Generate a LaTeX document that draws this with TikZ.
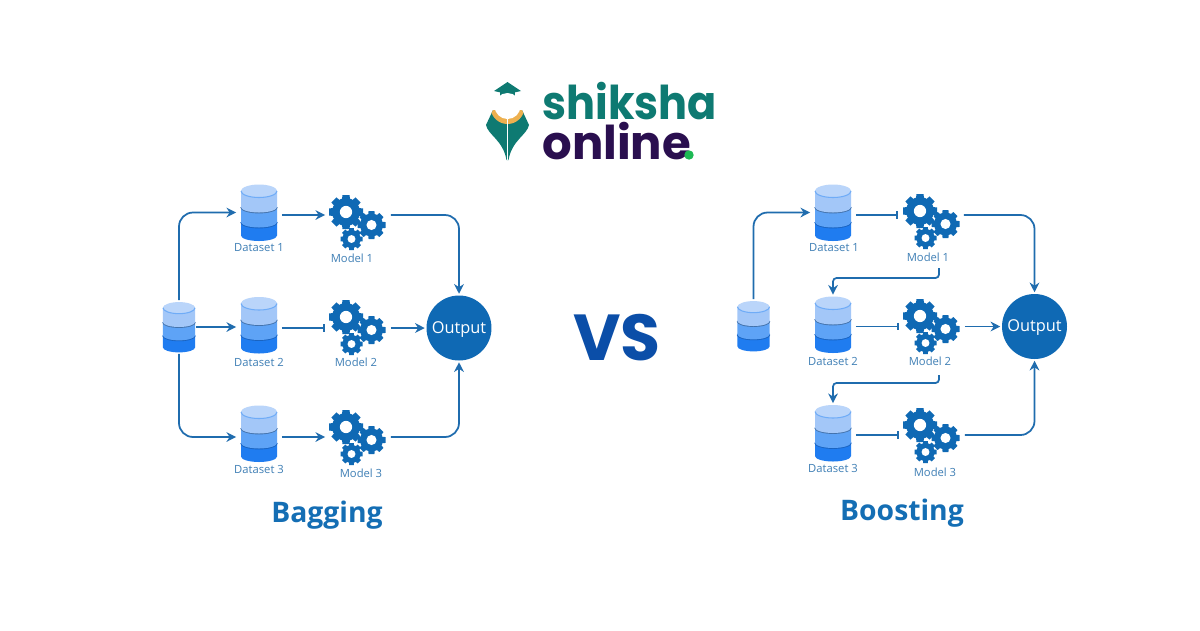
\documentclass[tikz,border=0pt]{standalone}
\usepackage{fontspec}
\setmainfont{Open Sans}
\newfontfamily\logofont{Poppins}
\usetikzlibrary{arrows.meta}

\definecolor{linkblue}{HTML}{1F6CAE}
\definecolor{gearblue}{HTML}{0F69B4}
\definecolor{labelblue}{HTML}{3F7FB5}
\definecolor{titleblue}{HTML}{146EB4}
\definecolor{vsblue}{HTML}{0B4EA8}
\definecolor{layertop}{HTML}{BAD5FA}
\definecolor{layerone}{HTML}{A3C7F8}
\definecolor{layertwo}{HTML}{5EA3F6}
\definecolor{layerthree}{HTML}{1F7CF0}
\definecolor{shikshateal}{HTML}{0E7A72}
\definecolor{onlinepurple}{HTML}{2A0F4F}
\definecolor{collar}{HTML}{EDB04F}
\definecolor{dotgreen}{HTML}{1DB954}

\newcommand{\dblayer}[3]{%
  \fill[#1] (-18,#2) -- (-18,#3) arc[start angle=180,end angle=0,x radius=18,y radius=5.5]
    -- (18,#2) arc[start angle=0,end angle=-180,x radius=18,y radius=5.5] -- cycle;}
\newcommand{\nibpath}{(493,110) -- (486,125) .. controls (488,135) and (503,140) .. (506.5,160)
    -- (508.5,160) .. controls (512,140) and (527,135) .. (529,125) -- (522,110) -- cycle}

\tikzset{
  >={Stealth[length=5.5pt,width=5.5pt]},
  link/.style={line width=1pt,linkblue},
  barlink/.style={line width=1pt,linkblue,-{Bar[width=4pt]}},
  dsbox/.style={minimum width=0.9cm,minimum height=1.18cm,inner sep=0pt},
  srcbox/.style={minimum width=0.68cm,minimum height=1.06cm,inner sep=0pt},
  modelbox/.style={minimum width=1.3cm,minimum height=0.4cm,inner sep=0pt},
  outnode/.style={circle,fill=gearblue,text=white,minimum size=1.3cm,inner sep=0pt,outer sep=1pt,
    text height=6.5pt,text depth=0.8pt,font=\fontsize{9.3}{11}\selectfont},
  tag/.style={text=labelblue,inner sep=0pt,font=\fontsize{6.4}{8}\selectfont},
  headtitle/.style={text=titleblue,inner sep=0pt,font=\fontsize{16.1}{18}\selectfont\bfseries},
  gear/.pic={
    \fill[gearblue] (0,0) circle[radius=#1*0.82];
    \foreach \a in {0,45,...,315}
      \fill[gearblue,rotate=\a] (-#1*0.3,0) -- (-#1*0.21,#1) -- (#1*0.21,#1) -- (#1*0.3,0) -- cycle;
    \fill[white] (0,0) circle[radius=#1*0.36];
  },
  gearset/.pic={
    \pic at (0,0) {gear=17};
    \pic at (25.5,13) {gear=14};
    \pic at (5.5,27) {gear=11};
  },
  dbstack/.pic={
    \dblayer{layerthree}{9}{23}
    \draw[line width=1pt,layerthree!80!black] (-18,9.5) arc[start angle=180,end angle=0,x radius=18,y radius=5.5];
    \dblayer{layertwo}{-5.5}{9.5}
    \draw[line width=1pt,layertwo!70!black] (-18,-5.5) arc[start angle=180,end angle=0,x radius=18,y radius=5.5];
    \dblayer{layerone}{-21.5}{-5.5}
    \fill[layertop] (0,-21.5) circle[x radius=18,y radius=6.5];
    \draw[line width=0.6pt,layertwo!75!layerone] (-18,-21.5) arc[start angle=180,end angle=0,x radius=18,y radius=6.5];
  }
}

\begin{document}
\begin{tikzpicture}[x=0.02cm,y=-0.02cm]
    \useasboundingbox (0,0) rectangle (1200,630);
    \fill[white] (0,0) rectangle (1200,630);

    % Logo
    \fill[shikshateal] (494,91) -- (507.5,82) -- (521,91) -- (507.5,94) -- cycle;
    \fill[shikshateal] (500,90) -- (515,90) -- (515,97) -- (500,97) -- cycle;
    \fill[shikshateal] \nibpath;
    \begin{scope}
        \clip \nibpath;
        \fill[collar] (507.5,107) circle[radius=17];
    \end{scope}
    \fill[white] (507.5,106) circle[radius=13];
    \draw[white,line width=0.8pt] (507.5,118) -- (507.5,160);
    \node[inner sep=0pt,anchor=base west,text=shikshateal,font=\fontsize{26.5}{30}\logofont\bfseries] (shiksha) at (542,119) {\scalebox{0.924}[1]{shiksha}};
    \node[inner sep=0pt,anchor=base west,text=onlinepurple,font=\fontsize{26.5}{30}\logofont\bfseries] (online) at (542,159) {\scalebox{1}[1]{online}};
    \fill[dotgreen] (689,155) circle[radius=4.7];

    % Bagging
    \node[srcbox] (src1) at (179,327) {};
    \pic[scale=0.89] at (src1) {dbstack};
    \foreach \n/\y in {1/212.5,2/325,3/433.5} {
        \node[dsbox] (da\n) at (259,\y) {};
        \pic at (da\n) {dbstack};
    }
    \node[modelbox] (ma1) at (358,215) {};
    \node[modelbox] (ma2) at (358,328) {};
    \node[modelbox] (ma3) at (358,437) {};
    \foreach \y in {212,317,427} \pic at (346,\y) {gearset};
    \node[outnode] (outa) at (459,328) {Output};

    \draw[link,->,rounded corners=8pt] (src1.north) |- (da1.west);
    \draw[link,->,rounded corners=8pt] (src1.south) |- (da3.west |- ma3.west);
    \draw[link,->] (src1.east) -- (src1.east -| da2.west);
    \draw[link,->] (ma1.west -| da1.east) -- (ma1.west);
    \draw[barlink] (ma2.west -| da2.east) -- (ma2.west);
    \draw[link,->] (ma3.west -| da3.east) -- (ma3.west);
    \draw[link,->,rounded corners=8pt] (ma1.east) -| (outa.north);
    \draw[link,->] (ma2.east) -- (outa.west);
    \draw[link,->,rounded corners=8pt] (ma3.east) -| (outa.south);

    % Boosting
    \node[srcbox] (src2) at (753.5,326) {};
    \pic[scale=0.89] at (src2) {dbstack};
    \foreach \n/\y in {1/212.5,2/324.5,3/433} {
        \node[dsbox] (db\n) at (833,\y) {};
        \pic at (db\n) {dbstack};
    }
    \node[modelbox] (mb1) at (931,215) {};
    \node[modelbox] (mb2) at (932,326.5) {};
    \node[modelbox] (mb3) at (932,435) {};
    \foreach \y in {211,316,425} \pic at (920,\y) {gearset};
    \node[outnode] (outb) at (1034.5,326.5) {Output};
    \coordinate (turn1) at (939,268);
    \coordinate (turn2) at (939,375);

    \draw[link,->,rounded corners=8pt] (src2.north) |- (db1.west);
    \draw[barlink] (mb1.west -| db1.east) -- (mb1.west);
    \draw[barlink] (mb2.west -| db2.east) -- (mb2.west);
    \draw[barlink] (mb3.west -| db3.east) -- (mb3.west);
    \draw[link,->,rounded corners=2pt] (turn1) -- ++(0,10) -| (db2.north);
    \draw[link,->,rounded corners=2pt] (turn2) -- ++(0,8) -| (db3.north);
    \draw[link,->,rounded corners=8pt] (mb1.east) -| (outb.north);
    \draw[link,->] (mb2.east) -- (outb.west);
    \draw[link,->,rounded corners=8pt] (mb3.east) -| (outb.south);

    % Etichette
    \foreach \n/\x/\y/\t in {la1/259/248/Dataset 1,la2/259/362/Dataset 2,la3/259/469/Dataset 3,
        ta1/352/258/Model 1,ta2/356/362/Model 2,ta3/361/473/Model 3,
        lb1/834/248/Dataset 1,lb2/833/361/Dataset 2,lb3/833/468/Dataset 3,
        tb1/928/257/Model 1,tb2/930/361/Model 2,tb3/935/472/Model 3}
        \node[tag] (\n) at (\x,\y) {\t};

    \node[headtitle] (bagging) at (327,515) {Bagging};
    \node[headtitle] (boosting) at (902,513) {Boosting};
    \node[inner sep=0pt,text=vsblue,font=\fontsize{37}{40}\logofont\bfseries] (versus) at (617,338) {VS};
\end{tikzpicture}
\end{document}
